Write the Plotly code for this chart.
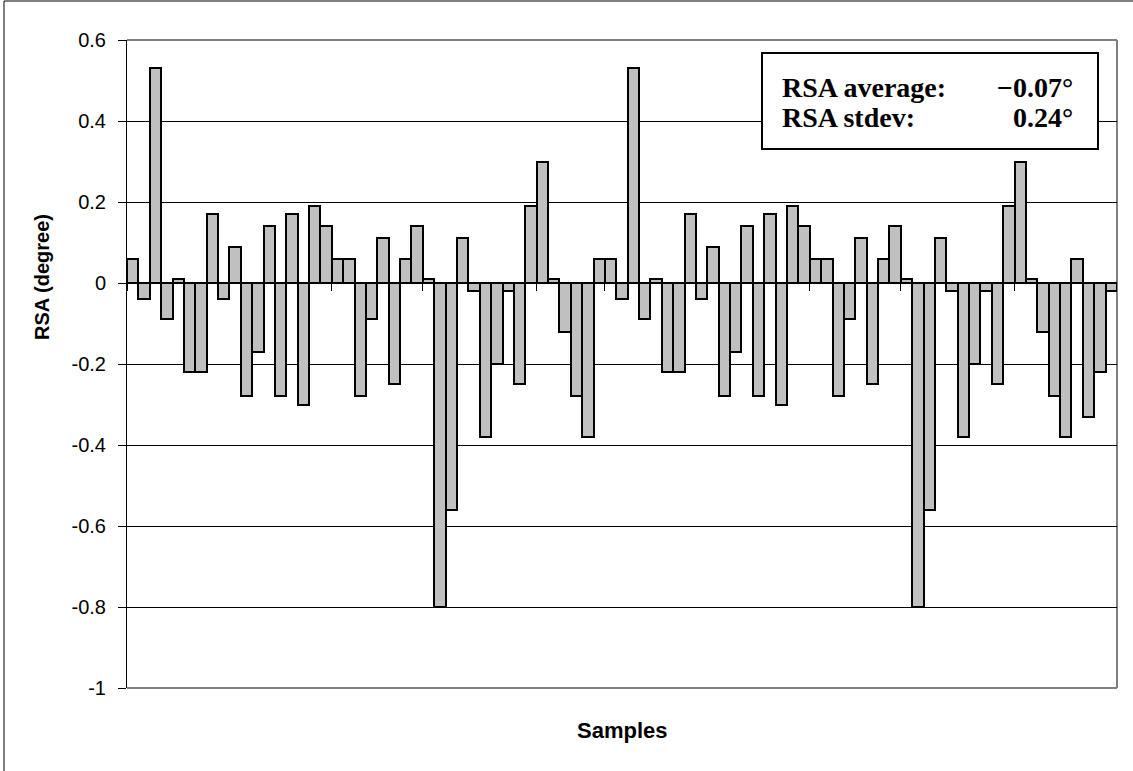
import plotly.graph_objects as go

# RSA per sample, in degrees
rsa_values = [
    0.06, -0.04, 0.53, -0.09, 0.01, -0.22, -0.22, 0.17, -0.04, 0.09,
    -0.28, -0.17, 0.14, -0.28, 0.17, -0.30, 0.19, 0.14, 0.06, 0.06,
    -0.28, -0.09, 0.11, -0.25, 0.06, 0.14, 0.01, -0.80, -0.56, 0.11,
    -0.02, -0.38, -0.20, -0.02, -0.25, 0.19, 0.30, 0.01, -0.12, -0.28,
    -0.38, 0.06, 0.06, -0.04, 0.53, -0.09, 0.01, -0.22, -0.22, 0.17,
    -0.04, 0.09, -0.28, -0.17, 0.14, -0.28, 0.17, -0.30, 0.19, 0.14,
    0.06, 0.06, -0.28, -0.09, 0.11, -0.25, 0.06, 0.14, 0.01, -0.80,
    -0.56, 0.11, -0.02, -0.38, -0.20, -0.02, -0.25, 0.19, 0.30, 0.01,
    -0.12, -0.28, -0.38, 0.06, -0.33, -0.22, -0.02,
]
sample_ids = [str(i + 1) for i in range(len(rsa_values))]

y_tick_values = [0.6, 0.4, 0.2, 0, -0.2, -0.4, -0.6, -0.8, -1]
y_tick_labels = ["0.6", "0.4", "0.2", "0", "-0.2", "-0.4", "-0.6", "-0.8", "-1"]

stat_labels = ["RSA average:", "RSA stdev:"]
stat_values = ["\u22120.07\u00b0", "0.24\u00b0"]

W, H = 1133, 771
L, R, T, B = 127, 16, 40, 83
PW, PH = W - L - R, H - T - B


def px(x):
    return (x - L) / PW


def py(y):
    return (H - B - y) / PH


fig = go.Figure(
    go.Bar(
        x=sample_ids,
        y=rsa_values,
        marker=dict(color="#C0C0C0", line=dict(color="black", width=2)),
    )
)

shapes = [
    # outer frame of the chart area
    dict(type="rect", xref="paper", yref="paper",
         x0=px(4), x1=px(W + 10), y0=py(H + 10), y1=py(1),
         line=dict(color="black", width=1), layer="below"),
    # plot area border (top, right, bottom)
    dict(type="line", xref="paper", yref="paper", x0=0, x1=1, y0=1, y1=1,
         line=dict(color="#808080", width=2), layer="below"),
    dict(type="line", xref="paper", yref="paper", x0=1, x1=1, y0=0, y1=1,
         line=dict(color="#808080", width=2), layer="below"),
    dict(type="line", xref="paper", yref="paper", x0=0, x1=1, y0=0, y1=0,
         line=dict(color="#808080", width=2), layer="below"),
    # statistics box
    dict(type="rect", xref="paper", yref="paper",
         x0=px(762), x1=px(1098), y0=py(149), y1=py(53),
         line=dict(color="black", width=2), fillcolor="white", layer="above"),
]

stat_font = dict(family="Liberation Serif", size=28, color="black", weight="bold")
line_centres = [87, 118]
annotations = []
for label, value, yc in zip(stat_labels, stat_values, line_centres):
    annotations.append(dict(xref="paper", yref="paper", x=px(780), y=py(yc),
                            xanchor="left", yanchor="middle", showarrow=False,
                            text=label, font=stat_font))
    annotations.append(dict(xref="paper", yref="paper", x=px(1075), y=py(yc),
                            xanchor="right", yanchor="middle", showarrow=False,
                            text=value, font=stat_font))

annotations += [
    dict(xref="paper", yref="paper", x=0.5, y=py(730),
         xanchor="center", yanchor="middle", showarrow=False,
         text="Samples",
         font=dict(family="Liberation Sans", size=22, color="black", weight="bold")),
    dict(xref="paper", yref="paper", x=px(42), y=py(277),
         xanchor="center", yanchor="middle", showarrow=False, textangle=-90,
         text="RSA (degree)",
         font=dict(family="Liberation Sans", size=20, color="black", weight="bold")),
]

y_top, y_bottom = 0.6, -1.0
zero_pos = (0 - y_bottom) / (y_top - y_bottom)

fig.update_layout(
    width=W, height=H,
    margin=dict(l=L, r=R, t=T, b=B, pad=0),
    paper_bgcolor="white", plot_bgcolor="white",
    bargap=0,
    showlegend=False,
    shapes=shapes,
    annotations=annotations,
    font=dict(family="Liberation Sans", color="black"),
    xaxis=dict(
        type="category",
        anchor="free", position=zero_pos,
        showline=True, linecolor="black", linewidth=1,
        ticks="outside", tickson="boundaries", ticklen=7,
        tickcolor="black", tickwidth=1,
        showticklabels=False, showgrid=False, zeroline=False,
    ),
    yaxis=dict(
        range=[y_bottom, y_top],
        tickvals=y_tick_values, ticktext=y_tick_labels,
        showline=True, linecolor="black", linewidth=1,
        ticks="outside", ticklen=8, tickcolor="black", tickwidth=1,
        showgrid=True, gridcolor="black", gridwidth=1,
        zeroline=False,
        tickfont=dict(family="Liberation Sans", size=20, color="black"),
        ticklabelstandoff=8,
    ),
)

fig.write_html("out.html")
